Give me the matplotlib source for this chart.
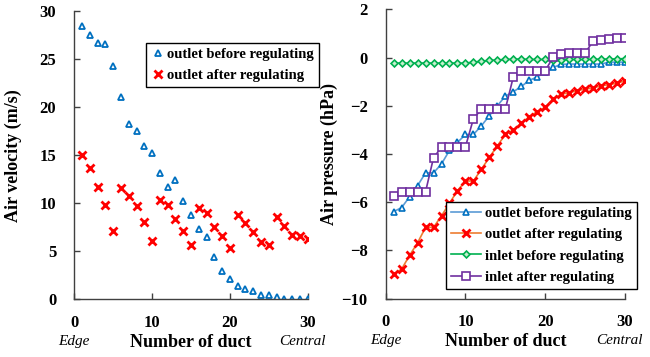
import matplotlib
matplotlib.use("Agg")
import matplotlib.pyplot as plt
import numpy as np
from matplotlib.transforms import blended_transform_factory

plt.rcParams['font.family'] = ['Liberation Serif', 'DejaVu Serif']

ducts = list(range(1, 31))

vel_before = [28.4, 27.5, 26.7, 26.6, 24.3, 21.1, 18.2, 17.5, 16.0, 15.2,
              13.1, 11.7, 12.4, 10.2, 8.8, 7.3, 6.5, 4.4, 2.9, 2.1,
              1.4, 1.1, 0.86, 0.5, 0.4, 0.2, 0.05, 0.05, 0.05, 0.05]
vel_after = [15.0, 13.7, 11.7, 9.8, 7.1, 11.6, 10.8, 9.7, 8.0, 6.1,
             10.3, 9.8, 8.35, 7.1, 5.6, 9.5, 9.0, 7.5, 6.6, 5.3,
             8.8, 7.9, 7.0, 6.0, 5.6, 8.6, 7.6, 6.7, 6.55, 6.3]

p_out_before = [-6.39, -6.22, -5.77, -5.31, -4.78, -4.78, -4.41, -3.85, -3.52, -3.19,
                -3.19, -2.83, -2.41, -2.0, -1.6, -1.42, -1.2, -0.95, -0.8, -0.62,
                -0.41, -0.28, -0.27, -0.27, -0.27, -0.27, -0.27, -0.19, -0.19, -0.19]
p_out_after = [-8.98, -8.77, -8.2, -7.68, -7.04, -7.04, -6.56, -6.04, -5.52, -5.12,
               -5.12, -4.63, -4.14, -3.66, -3.19, -3.0, -2.72, -2.45, -2.24, -2.06,
               -1.71, -1.52, -1.46, -1.37, -1.31, -1.26, -1.17, -1.13, -1.06, -0.97]
p_in_before = [-0.23, -0.23, -0.23, -0.23, -0.23, -0.23, -0.23, -0.23, -0.23, -0.23,
               -0.19, -0.15, -0.12, -0.10, -0.08, -0.07, -0.06, -0.08, -0.08, -0.08,
               -0.10, -0.10, -0.08, -0.08, -0.08, -0.07, -0.07, -0.06, -0.06, -0.04]
p_in_after = [-5.73, -5.56, -5.56, -5.56, -5.56, -4.15, -3.72, -3.72, -3.72, -3.70,
              -2.54, -2.14, -2.14, -2.14, -2.14, -0.81, -0.55, -0.55, -0.55, -0.55,
              0.02, 0.14, 0.18, 0.18, 0.18, 0.68, 0.72, 0.76, 0.82, 0.82]

left_yticks = [0, 5, 10, 15, 20, 25, 30]
right_yticks = [-10, -8, -6, -4, -2, 0, 2]
xticks = [0, 10, 20, 30]

fig = plt.figure(figsize=(6.5, 3.57), dpi=100)
ax1 = fig.add_axes([0.1143, 0.1616, 0.359, 0.8076])
ax2 = fig.add_axes([0.5934, 0.1633, 0.368, 0.8106])

BLUE = '#0070C0'
RED = '#FF0000'
fs = 12

for ax in (ax1, ax2):
    for s in ('top', 'right'):
        ax.spines[s].set_visible(False)
    for s in ('left', 'bottom'):
        ax.spines[s].set_linewidth(1.0)
        ax.spines[s].set_color('#404040')
    ax.set_xlim(0, 30)
    ax.set_xticks(xticks)
    ax.tick_params(direction='in', length=4, width=1, color='#404040',
                   labelsize=fs)
    ax.tick_params(axis='y', pad=13)
    ax.tick_params(axis='x', pad=11)
    ax.set_xlabel('Number of duct', fontsize=fs + 1, fontweight='bold')
    ax.xaxis.set_label_coords(0.5, -0.12)
    tr = blended_transform_factory(ax.transData, ax.transAxes)
    ax.text(0, -0.145, 'Edge', transform=tr, ha='center', va='center',
            fontsize=11, fontstyle='italic')
    ax.text(29.3, -0.145, 'Central', transform=tr, ha='center', va='center',
            fontsize=11, fontstyle='italic')

# Left panel
ax1.plot(ducts, vel_before, linestyle='none', marker='^', ms=4.5, mfc='white',
         mec=BLUE, mew=1.3, label='outlet before regulating')
ax1.plot(ducts, vel_after, linestyle='none', marker='x', ms=5.5, mec=RED,
         mew=2.0, label='outlet after regulating')
ax1.set_ylim(0, 30)
ax1.set_yticks(left_yticks)
ax1.set_ylabel('Air velocity (m/s)', fontsize=fs + 1, fontweight='bold')
ax1.yaxis.set_label_coords(-0.225, 0.5)
leg1 = ax1.legend(loc='upper left', bbox_to_anchor=(0.307, 0.89), borderaxespad=0,
                  fancybox=False, edgecolor='black', framealpha=1,
                  prop={'weight': 'bold', 'size': 10.5}, handletextpad=0.1,
                  handlelength=1.0, borderpad=0.35, labelspacing=0.55)
leg1.get_frame().set_linewidth(1.0)

# Right panel
ax2.plot(ducts, p_out_before, color='#5B9BD5', lw=1.2, marker='^', ms=5,
         mfc='white', mec=BLUE, mew=1.2, label='outlet before regulating')
ax2.plot(ducts, p_out_after, color='#ED7D31', lw=1.2, marker='x', ms=5.5,
         mec=RED, mew=2.0, label='outlet after regulating')
ax2.plot(ducts, p_in_before, color='#00B050', lw=1.2, marker='D', ms=3.5,
         mfc='#C6EFCE', mec='#00B050', mew=1.2, label='inlet before regulating')
ax2.plot(ducts, p_in_after, color='#7030A0', lw=1.2, marker='s', ms=5.5,
         mfc='white', mec='#7030A0', mew=1.2, label='inlet after regulating')
ax2.set_ylim(-10, 2)
ax2.set_yticks(right_yticks)
ax2.set_ylabel('Air pressure (hPa)', fontsize=fs + 1, fontweight='bold')
ax2.yaxis.set_label_coords(-0.2, 0.5)
leg2 = ax2.legend(loc='lower left', bbox_to_anchor=(0.251, 0.034), borderaxespad=0,
                  fancybox=False, edgecolor='black', framealpha=1,
                  prop={'weight': 'bold', 'size': 10.5}, handletextpad=0.25,
                  handlelength=2.1, borderpad=0.35, labelspacing=0.55)
leg2.get_frame().set_linewidth(1.0)

for ax in (ax1, ax2):
    for lab in ax.get_xticklabels() + ax.get_yticklabels():
        lab.set_fontweight('bold')

fig.savefig('out.png', dpi=100)
